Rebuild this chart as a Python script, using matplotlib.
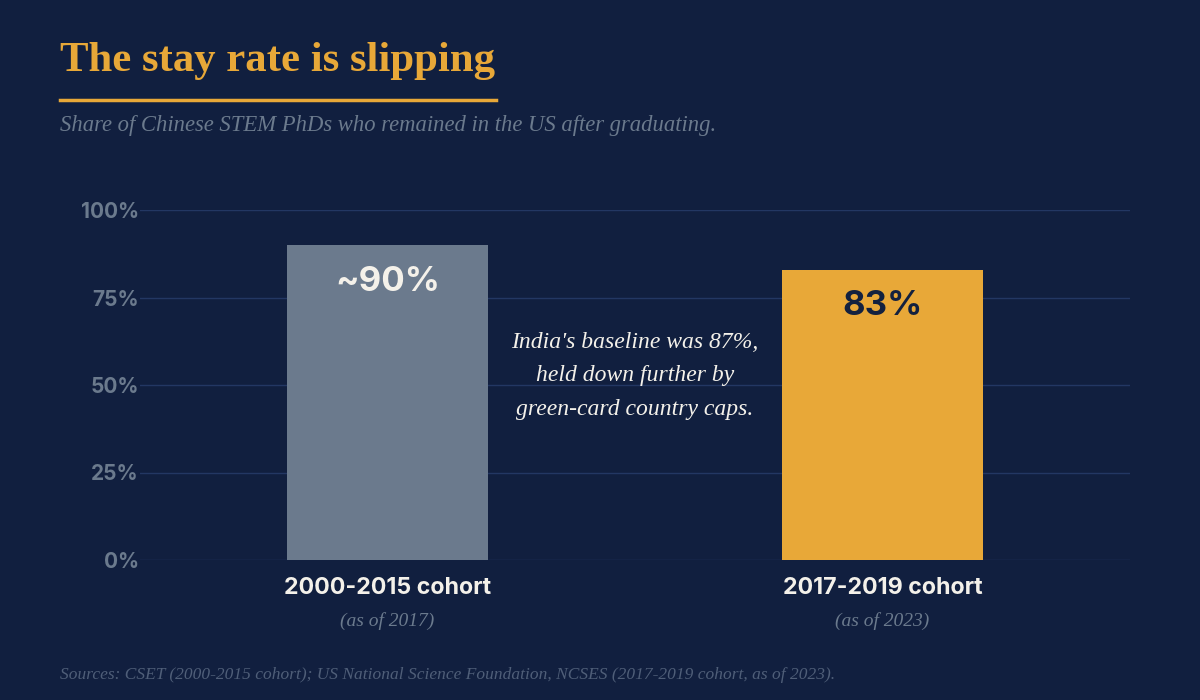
import matplotlib
matplotlib.use("Agg")
import matplotlib.pyplot as plt
from matplotlib.lines import Line2D

categories = ["2000-2015 cohort", "2017-2019 cohort"]
sublabels = ["(as of 2017)", "(as of 2023)"]
values = [90, 83]
value_labels = ["~90%", "83%"]
yticks = [0, 25, 50, 75, 100]
ytick_labels = ["0%", "25%", "50%", "75%", "100%"]

BG = "#111f3f"
GOLD = "#e8a838"
GREY = "#6b7a8d"
GRID = "#233763"
SERIF = ["Liberation Serif", "DejaVu Serif"]
SANS = ["Inter", "DejaVu Sans"]

fig = plt.figure(figsize=(12, 7), dpi=100, facecolor=BG)
ax = fig.add_axes([140/1200, 0.2, 990/1200, 0.5], facecolor=BG)

x = list(range(len(categories)))
bar_colors = [GREY, GOLD]
ax.bar(x, values, width=0.406, color=bar_colors, zorder=3)
ax.set_xlim(-0.5, 1.5)
ax.set_ylim(0, 100)
ax.set_yticks(yticks)
ax.set_yticklabels(ytick_labels)
for t in ax.get_yticklabels():
    t.set_fontfamily(SANS)
    t.set_fontweight("bold")
    t.set_fontsize(15)
    t.set_color(GREY)
ax.tick_params(axis="y", length=0, pad=0.8)
ax.set_xticks([])
ax.grid(axis="y", color=GRID, linewidth=1, zorder=0)
for s in ax.spines.values():
    s.set_visible(False)

# value labels inside bars
val_colors = ["#f4f1ea", "#13213f"]
for xi, v, lab, c in zip(x, values, value_labels, val_colors):
    ax.text(xi, v - 10.5, lab, ha="center", va="center", fontsize=25,
            fontweight="bold", color=c, family=SANS, zorder=4)

# category labels
for xi, cat, sub in zip(x, categories, sublabels):
    ax.annotate(cat, xy=(xi, 0), xycoords="data", xytext=(0, -20),
                textcoords="offset points", ha="center", va="center",
                fontsize=16.7, fontweight="bold", color="#f4f1ea", family=SANS)
    ax.annotate(sub, xy=(xi, 0), xycoords="data", xytext=(0, -44),
                textcoords="offset points", ha="center", va="center",
                fontsize=14, style="italic", color=GREY, family=SERIF)

# annotation
ax.text(0.5, 52.6, "India's baseline was 87%,\nheld down further by\ngreen-card country caps.",
        ha="center", va="center", fontsize=17, style="italic", color="#f4f1ea",
        family=SERIF, linespacing=1.8, zorder=4)

# title and subtitle
fig.text(60/1200, 1 - 61/700, "The stay rate is slipping", ha="left", va="center",
         fontsize=30.8, fontweight="bold", color=GOLD, family=SERIF)
fig.add_artist(Line2D([60/1200, 496/1200], [1 - 100/700, 1 - 100/700],
                      color=GOLD, linewidth=2.5, transform=fig.transFigure))
fig.text(60/1200, 1 - 126/700, "Share of Chinese STEM PhDs who remained in the US after graduating.",
         ha="left", va="center", fontsize=16.3, style="italic", color=GREY, family=SERIF)

fig.text(60/1200, 1 - 675/700,
         "Sources: CSET (2000-2015 cohort); US National Science Foundation, NCSES (2017-2019 cohort, as of 2023).",
         ha="left", va="center", fontsize=12.5, style="italic", color="#4f5e78", family=SERIF)

fig.savefig("out.png", dpi=100, facecolor=BG)
